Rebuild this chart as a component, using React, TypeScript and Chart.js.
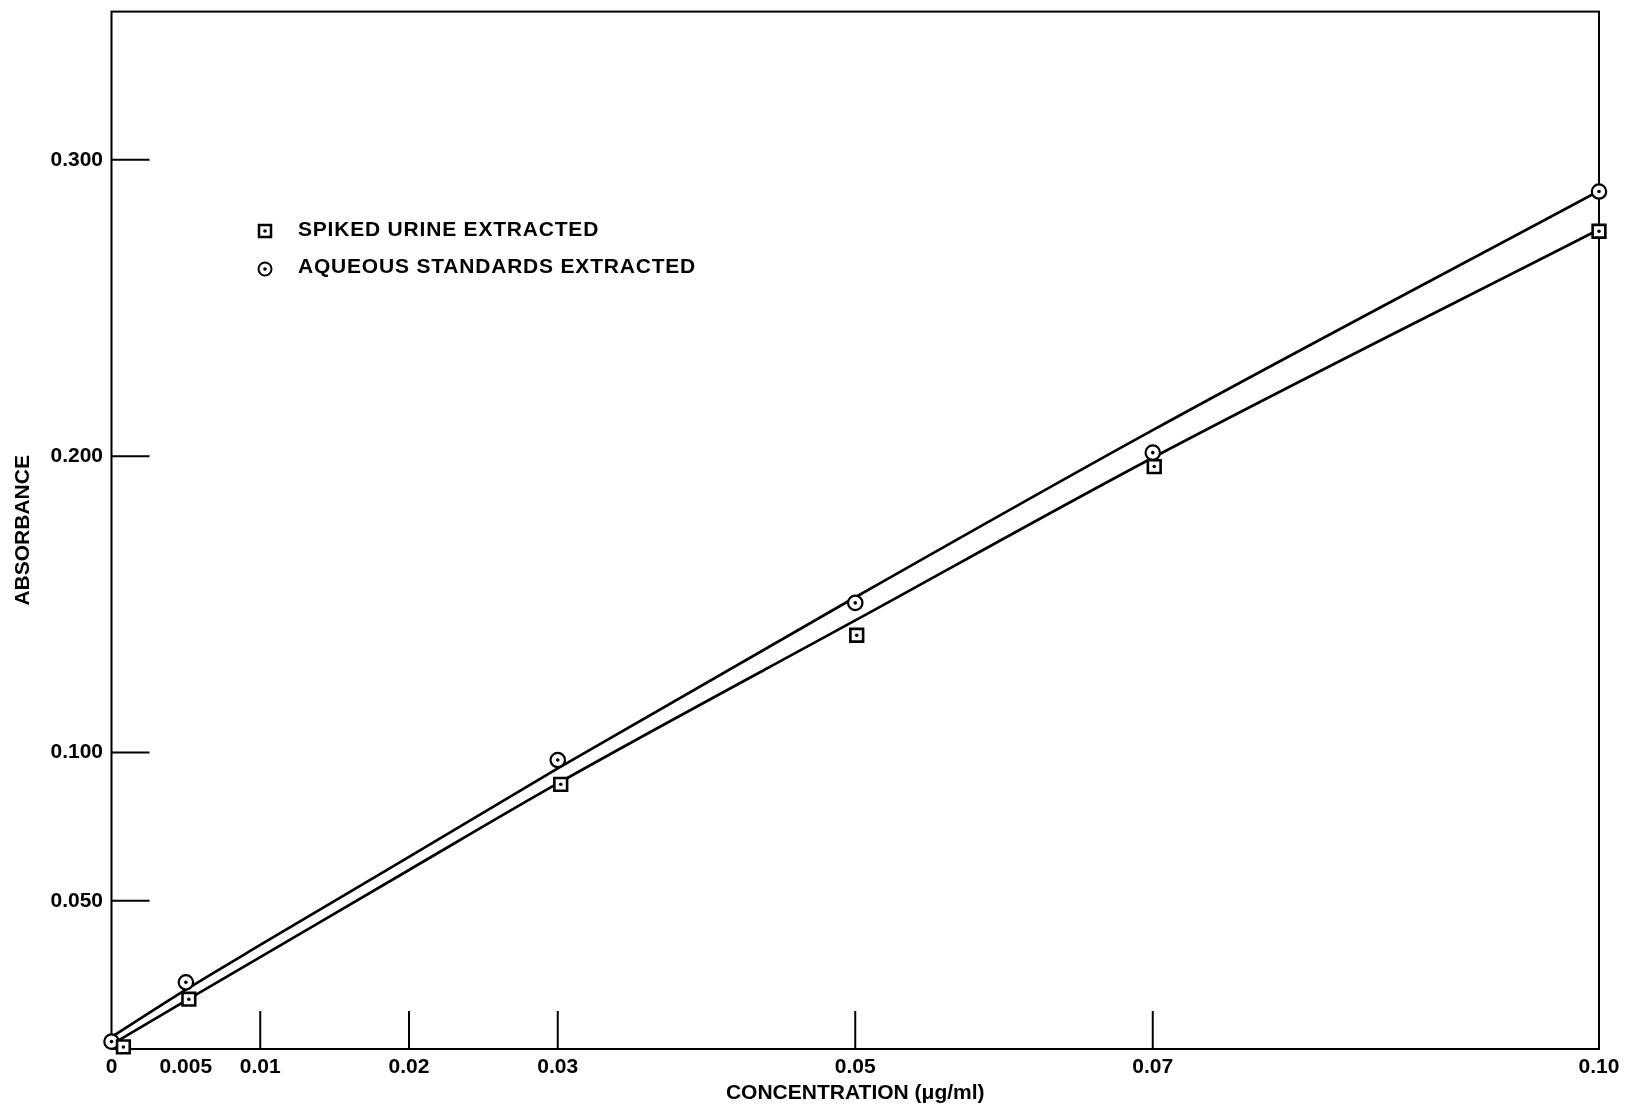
import React, { useEffect, useRef } from 'react';
import { Chart, registerables } from 'chart.js';

Chart.register(...registerables);

const FONT = '"Liberation Sans", Arial, Helvetica, sans-serif';

// Measured points
const aqueousX = [0, 0.005, 0.03, 0.05, 0.07, 0.10];
const aqueousY = [0.0025, 0.0225, 0.0975, 0.1505, 0.2012, 0.2893];
const spikedX = [0.0008, 0.0052, 0.0302, 0.0501, 0.0701, 0.10];
const spikedY = [0.0007, 0.0168, 0.0893, 0.1396, 0.1965, 0.2759];

// Drawn calibration curves
const fitX = [0, 0.005, 0.01, 0.02, 0.03, 0.05, 0.07, 0.10];
const aqueousFitY = [0.004, 0.02, 0.0351, 0.0648, 0.0947, 0.1524, 0.2088, 0.2895];
const spikedFitY = [0.0015, 0.0163, 0.031, 0.0604, 0.0896, 0.1446, 0.1995, 0.2765];

// Axes
const xTickValues = [0, 0.005, 0.01, 0.02, 0.03, 0.05, 0.07, 0.10];
const xTickLabels = ['0', '0.005', '0.01', '0.02', '0.03', '0.05', '0.07', '0.10'];
const xTickMarks = [0.01, 0.02, 0.03, 0.05, 0.07];
const yTickValues = [0.05, 0.1, 0.2, 0.3];
const yTickLabels = ['0.050', '0.100', '0.200', '0.300'];
const legendLabels = ['SPIKED URINE EXTRACTED', 'AQUEOUS STANDARDS EXTRACTED'];

const pts = (xs: number[], ys: number[]) => xs.map((x, i) => ({ x, y: ys[i] }));

const framePlugin = {
  id: 'frameTicks',
  beforeDatasetsDraw(chart: any) {
    const { ctx, chartArea, scales } = chart;
    const { left, right, top, bottom } = chartArea;
    ctx.save();
    ctx.strokeStyle = '#000';
    ctx.lineWidth = 2;
    ctx.strokeRect(left, top, right - left, bottom - top);
    ctx.beginPath();
    xTickMarks.forEach((v) => {
      const px = scales.x.getPixelForValue(v);
      ctx.moveTo(px, bottom);
      ctx.lineTo(px, bottom - 38);
    });
    yTickValues.forEach((v) => {
      const py = scales.y.getPixelForValue(v);
      ctx.moveTo(left, py);
      ctx.lineTo(left + 38, py);
    });
    ctx.stroke();
    ctx.restore();
  },
};

const legendPlugin = {
  id: 'insetLegend',
  afterDraw(chart: any) {
    const { ctx } = chart;
    ctx.save();
    const mx = 265;
    const rows = [231, 269];
    ctx.strokeStyle = '#000';
    ctx.fillStyle = '#fff';
    ctx.lineWidth = 2.5;
    ctx.beginPath();
    ctx.rect(mx - 6, rows[0] - 6, 12, 12);
    ctx.fill();
    ctx.stroke();
    ctx.lineWidth = 2;
    ctx.beginPath();
    ctx.arc(mx, rows[1], 6.5, 0, Math.PI * 2);
    ctx.fill();
    ctx.stroke();
    ctx.fillStyle = '#000';
    rows.forEach((ry) => {
      ctx.beginPath();
      ctx.arc(mx, ry, 1.8, 0, Math.PI * 2);
      ctx.fill();
    });
    ctx.font = `bold 21px ${FONT}`;
    try { (ctx as any).letterSpacing = '0.8px'; } catch (e) {}
    ctx.textAlign = 'left';
    ctx.textBaseline = 'middle';
    ctx.fillText(legendLabels[0], 298, 230);
    ctx.fillText(legendLabels[1], 298, 267);
    ctx.restore();
  },
};

export default function App() {
  const ref = useRef<HTMLCanvasElement>(null);

  useEffect(() => {
    const canvas = ref.current;
    if (!canvas) return;
    const chart = new Chart(canvas, {
      type: 'scatter',
      data: {
        datasets: [
          {
            label: 'dots spiked',
            data: pts(spikedX, spikedY),
            pointStyle: 'circle',
            pointRadius: 1.8,
            pointBackgroundColor: '#000',
            pointBorderWidth: 0,
            clip: false,
          },
          {
            label: 'dots aqueous',
            data: pts(aqueousX, aqueousY),
            pointStyle: 'circle',
            pointRadius: 1.8,
            pointBackgroundColor: '#000',
            pointBorderWidth: 0,
            clip: false,
          },
          {
            label: legendLabels[0],
            data: pts(spikedX, spikedY),
            pointStyle: 'rect',
            pointRadius: 9,
            pointBackgroundColor: '#fff',
            pointBorderColor: '#000',
            pointBorderWidth: 2.6,
            clip: false,
          },
          {
            label: legendLabels[1],
            data: pts(aqueousX, aqueousY),
            pointStyle: 'circle',
            pointRadius: 7.2,
            pointBackgroundColor: '#fff',
            pointBorderColor: '#000',
            pointBorderWidth: 2.2,
            clip: false,
          },
          {
            label: 'aqueous fit',
            data: pts(fitX, aqueousFitY),
            showLine: true,
            pointRadius: 0,
            borderColor: '#000',
            borderWidth: 2.7,
            cubicInterpolationMode: 'monotone',
          },
          {
            label: 'spiked fit',
            data: pts(fitX, spikedFitY),
            showLine: true,
            pointRadius: 0,
            borderColor: '#000',
            borderWidth: 2.7,
            cubicInterpolationMode: 'monotone',
          },
        ] as any,
      },
      options: {
        animation: false,
        responsive: true,
        maintainAspectRatio: false,
        events: [],
        layout: { padding: { left: 0, right: 28, top: 6, bottom: 0 } },
        plugins: {
          legend: { display: false },
          tooltip: { enabled: false },
        },
        scales: {
          x: {
            type: 'linear',
            min: 0,
            max: 0.1,
            afterBuildTicks: (scale: any) => {
              scale.ticks = xTickValues.map((v) => ({ value: v }));
            },
            afterFit: (scale: any) => {
              scale.height = 64;
              scale.paddingLeft = 0;
              scale.paddingRight = 0;
            },
            grid: { display: false, drawTicks: false },
            border: { display: false },
            ticks: {
              autoSkip: false,
              maxRotation: 0,
              minRotation: 0,
              padding: 6,
              color: '#000',
              font: { family: FONT, size: 21, weight: 'bold' },
              callback: (value: any) => {
                const i = xTickValues.findIndex((t) => Math.abs(t - Number(value)) < 1e-9);
                return i >= 0 ? xTickLabels[i] : '';
              },
            },
            title: {
              display: true,
              text: 'CONCENTRATION (\u03bcg/ml)',
              color: '#000',
              font: { family: FONT, size: 21, weight: 'bold' },
              padding: { top: 0, bottom: 7.4 },
            },
          },
          y: {
            type: 'linear',
            min: 0,
            max: 0.35,
            afterBuildTicks: (scale: any) => {
              scale.ticks = yTickValues.map((v) => ({ value: v }));
            },
            afterFit: (scale: any) => {
              scale.width = 111.5;
              scale.paddingTop = 0;
              scale.paddingBottom = 0;
            },
            grid: { display: false, drawTicks: false },
            border: { display: false },
            ticks: {
              autoSkip: false,
              padding: 8.5,
              color: '#000',
              font: { family: FONT, size: 21, weight: 'bold' },
              callback: (value: any) => {
                const i = yTickValues.findIndex((t) => Math.abs(t - Number(value)) < 1e-9);
                return i >= 0 ? yTickLabels[i] : '';
              },
            },
            title: {
              display: true,
              text: 'ABSORBANCE',
              color: '#000',
              font: { family: FONT, size: 21, weight: 'bold' },
              padding: { top: 10.4, bottom: 0 },
            },
          },
        },
      } as any,
      plugins: [framePlugin, legendPlugin],
    });
    return () => chart.destroy();
  }, []);

  return (
    <div
      style={{
        position: 'absolute',
        left: 0,
        top: 0,
        width: 1627,
        height: 1113,
        background: '#fff',
      }}
    >
      <canvas ref={ref} />
    </div>
  );
}
